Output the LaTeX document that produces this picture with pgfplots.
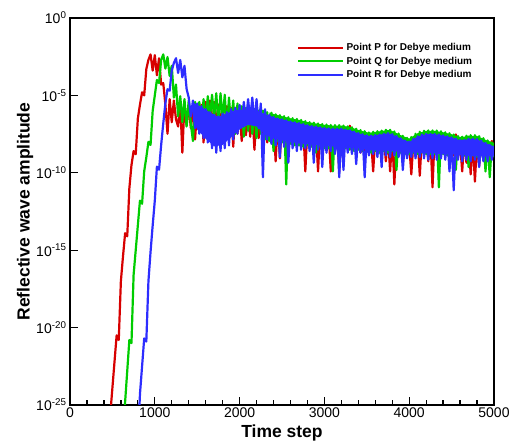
\documentclass[border=0pt]{standalone}
\usepackage{pgfplots}
\pgfplotsset{compat=1.18}
\usepackage{pgfplotstable}
\usepackage{fontspec}
\setmainfont{Liberation Sans}
\definecolor{cred}{RGB}{215,0,0}
\definecolor{cgreen}{RGB}{0,205,0}
\definecolor{cblue}{RGB}{45,45,255}
% t, log10 amplitude for points P (r), Q (g), R (b)
\pgfplotstableread{
t r g b
475 -25.6 -30 -30
500 -23.9 -30 -30
525 -22.2 -30 -30
550 -20.5 -30 -30
575 -20.8 -30 -30
600 -17.0 -30 -30
625 -15.4 -28.0 -30
650 -13.9 -24.8 -30
675 -14.1 -22.8 -30
700 -11.0 -20.8 -30
725 -9.5 -21.0 -30
750 -8.6 -16.6 -30
775 -8.8 -15.0 -30
800 -6.5 -13.4 -27.5
825 -5.6 -11.8 -24.3
850 -4.8 -12.0 -22.5
875 -5.0 -9.9 -20.7
900 -3.3 -9.0 -20.9
925 -2.7 -8.0 -17.0
950 -2.35 -8.2 -15.1
975 -3.4 -6.0 -13.4
1000 -2.4 -5.0 -11.8
1025 -3.7 -4.0 -9.6
1050 -2.6 -4.2 -9.8
1075 -4.3 -2.7 -8.2
1100 -4.21 -2.35 -6.8
1125 -5.61 -3.27 -5.5
1150 -7.48 -2.52 -4.6
1175 -5.24 -3.74 -4.7
1200 -6.73 -3.09 -3.4
1225 -5.33 -5.14 -2.9
1250 -6.55 -4.30 -2.6
1275 -7.01 -6.36 -3.55
1300 -5.52 -5.05 -2.71
1325 -8.70 -6.73 -3.83
1350 -5.52 -5.24 -3.09
1375 -6.92 -7.01 -4.58
1400 -5.61 -5.33 -5.14
1425 -7.11 -6.83 -6.36
1450 -5.61 -7.95 -5.33
1475 -7.85 -5.42 -7.11
1500 -5.70 -6.92 -5.52
1525 -7.01 -5.42 -7.48
1550 -5.61 -7.11 -5.70
1575 -8.04 -5.24 -7.76
1600 -5.42 -6.73 -5.89
1625 -6.92 -5.05 -8.04
1650 -5.33 -6.55 -6.08
1675 -7.29 -4.96 -8.42
1700 -5.42 -6.45 -6.26
1725 -7.01 -4.86 -8.70
1750 -5.61 -6.92 -6.36
1775 -7.11 -4.86 -8.60
1800 -5.61 -6.55 -6.17
1825 -7.29 -4.96 -8.42
1850 -5.70 -7.29 -6.08
1875 -7.39 -5.14 -8.23
1900 -5.80 -7.01 -5.89
1925 -8.32 -5.33 -7.85
1950 -5.80 -7.48 -5.80
1975 -7.48 -5.52 -7.48
2000 -5.89 -7.11 -5.61
2025 -7.95 -5.70 -6.92
2050 -5.89 -7.67 -5.42
2075 -7.57 -5.80 -6.73
2100 -5.98 -7.29 -5.24
2125 -7.67 -5.89 -6.55
2150 -5.98 -7.48 -5.14
2175 -8.51 -5.89 -6.92
2200 -6.08 -7.76 -5.24
2225 -7.76 -5.98 -7.11
2250 -6.08 -7.48 -5.52
2275 -7.85 -5.98 -10.29
2300 -6.17 -7.85 -5.89
2325 -8.04 -6.08 -7.85
2350 -6.30 -7.95 -6.26
2375 -7.85 -6.12 -8.13
2400 -6.55 -8.60 -6.40
2425 -9.26 -6.22 -8.23
2450 -6.64 -7.95 -6.49
2475 -9.07 -6.28 -8.98
2500 -6.69 -8.04 -6.54
2525 -8.04 -6.34 -8.32
2550 -6.76 -10.75 -6.61
2575 -8.13 -6.41 -9.35
2600 -6.83 -8.13 -6.68
2625 -7.85 -6.47 -8.42
2650 -6.88 -8.23 -6.73
2675 -8.23 -6.52 -8.60
2700 -6.93 -8.23 -6.78
2725 -8.32 -6.58 -8.51
2750 -7.00 -8.32 -6.85
2775 -9.91 -6.66 -8.42
2800 -7.07 -8.23 -6.92
2825 -8.32 -6.73 -8.60
2850 -7.13 -8.32 -6.98
2875 -8.23 -6.76 -9.35
2900 -7.16 -8.70 -7.01
2925 -9.91 -6.81 -8.51
2950 -7.21 -8.32 -7.06
2975 -8.42 -6.85 -9.63
3000 -7.25 -8.42 -7.10
3025 -8.51 -6.88 -8.70
3050 -7.28 -8.42 -7.13
3075 -9.91 -6.91 -8.60
3100 -7.30 -9.91 -7.15
3125 -8.51 -6.92 -8.79
3150 -7.30 -8.42 -7.15
3175 -9.91 -6.92 -10.29
3200 -7.30 -8.51 -7.15
3225 -8.60 -6.95 -9.82
3250 -7.36 -8.42 -7.21
3275 -8.51 -7.00 -8.70
3300 -6.96 -8.51 -7.24
3325 -8.60 -7.06 -8.79
3350 -7.49 -8.60 -7.34
3375 -8.51 -7.15 -9.44
3400 -7.58 -8.51 -7.43
3425 -8.70 -7.24 -8.70
3450 -7.65 -8.60 -7.50
3475 -8.60 -7.31 -10.29
3500 -7.73 -8.60 -7.58
3525 -8.70 -7.39 -8.88
3550 -7.75 -8.70 -7.60
3575 -9.91 -7.35 -8.79
3600 -7.71 -8.60 -7.56
3625 -8.70 -7.31 -8.98
3650 -7.67 -8.70 -7.52
3675 -8.60 -7.27 -9.63
3700 -7.63 -8.60 -7.48
3725 -9.26 -7.22 -8.88
3750 -7.58 -8.70 -7.43
3775 -9.91 -7.22 -8.98
3800 -7.65 -8.60 -7.50
3825 -10.75 -7.33 -8.88
3850 -7.77 -9.82 -7.62
3875 -8.70 -7.46 -8.98
3900 -7.92 -8.70 -7.77
3925 -9.26 -7.61 -9.82
3950 -8.07 -8.79 -7.92
3975 -8.79 -7.74 -9.07
4000 -8.14 -8.79 -7.99
4025 -10.10 -7.69 -8.98
4050 -7.95 -8.70 -7.80
4075 -8.79 -7.48 -9.07
4100 -7.79 -8.79 -7.64
4125 -10.19 -7.35 -8.98
4150 -7.67 -8.70 -7.52
4175 -8.79 -7.28 -9.07
4200 -7.64 -8.79 -7.49
4225 -9.26 -7.26 -9.16
4250 -7.63 -8.79 -7.48
4275 -10.94 -7.26 -9.07
4300 -7.64 -8.79 -7.49
4325 -8.88 -7.27 -9.16
4350 -7.67 -10.94 -7.52
4375 -8.79 -7.32 -9.07
4400 -7.73 -8.79 -7.58
4425 -8.88 -7.38 -9.16
4450 -7.79 -8.88 -7.64
4475 -8.79 -7.44 -9.91
4500 -7.86 -8.79 -7.71
4525 -8.88 -7.53 -11.13
4550 -7.52 -9.82 -7.80
4575 -8.98 -7.62 -9.16
4600 -8.03 -8.79 -7.88
4625 -9.91 -7.67 -9.26
4650 -7.78 -8.88 -7.87
4675 -9.35 -7.60 -9.16
4700 -7.95 -9.63 -7.80
4725 -10.10 -7.57 -9.26
4750 -7.95 -8.88 -7.80
4775 -10.57 -7.57 -9.16
4800 -7.97 -8.98 -7.82
4825 -9.54 -7.63 -9.63
4850 -8.07 -8.88 -7.92
4875 -8.98 -7.76 -9.26
4900 -8.22 -9.91 -8.07
4925 -9.07 -7.91 -9.26
4950 -8.36 -10.29 -8.21
4975 -7.95 -8.04 -9.16
5000 -8.42 -8.98 -8.27
}\wavedata
% upper rim of point Q over the late band: upper edge, then lower edge back
\pgfplotstableread{
t g
2350 -6.11
2400 -6.20
2500 -6.34
2600 -6.48
2700 -6.58
2800 -6.72
2900 -6.81
3000 -6.90
3100 -6.95
3200 -6.95
3300 -7.04
3400 -7.23
3500 -7.38
3550 -7.40
3600 -7.36
3700 -7.28
3750 -7.23
3800 -7.30
3900 -7.57
4000 -7.79
4100 -7.44
4200 -7.29
4300 -7.29
4400 -7.38
4500 -7.51
4600 -7.68
4650 -7.67
4700 -7.60
4800 -7.62
4900 -7.87
5000 -8.07
5000 -8.60
4900 -8.40
4800 -8.15
4700 -8.10
4600 -8.20
4500 -8.05
4400 -7.90
4300 -7.80
4200 -7.80
4100 -7.95
4000 -8.30
3900 -8.10
3800 -7.80
3700 -7.80
3600 -7.90
3500 -7.90
3400 -7.75
3300 -7.55
3200 -7.45
3100 -7.45
3000 -7.40
2900 -7.30
2800 -7.20
2700 -7.10
2600 -7.00
2500 -6.85
2400 -6.70
2350 -6.60
}\rimQ
% dense part of the point R band: upper edge, then lower edge back
\pgfplotstableread{
t b
1450 -5.45
1550 -5.75
1650 -6.10
1750 -6.40
1850 -6.15
1950 -5.95
2050 -5.95
2150 -6.00
2250 -6.10
2350 -6.30
2400 -6.42
2500 -6.56
2600 -6.70
2700 -6.80
2800 -6.94
2900 -7.03
3000 -7.12
3100 -7.17
3200 -7.17
3300 -7.26
3400 -7.45
3500 -7.60
3550 -7.62
3600 -7.58
3700 -7.50
3750 -7.45
3800 -7.52
3900 -7.79
4000 -8.01
4100 -7.66
4200 -7.51
4300 -7.51
4400 -7.60
4500 -7.73
4600 -7.90
4650 -7.89
4700 -7.82
4800 -7.84
4900 -8.09
5000 -8.29
5000 -8.90
4900 -8.95
4800 -8.90
4700 -8.90
4600 -8.85
4500 -8.80
4400 -8.80
4300 -8.75
4200 -8.75
4100 -8.70
4000 -8.70
3900 -8.65
3800 -8.60
3700 -8.55
3600 -8.55
3500 -8.50
3400 -8.40
3300 -8.40
3200 -8.35
3100 -8.30
3000 -8.25
2900 -8.20
2800 -8.15
2700 -8.10
2600 -8.00
2500 -7.90
2400 -7.80
2300 -7.50
2200 -7.00
2100 -6.90
2000 -7.20
1900 -7.70
1800 -8.20
1700 -8.30
1600 -7.80
1500 -7.20
1450 -6.60
}\bandR
\begin{document}
\begin{tikzpicture}
\useasboundingbox (-70pt,-41pt) rectangle (442pt,405pt);
\begin{axis}[
  at={(0,0)}, anchor=south west,
  scale only axis, width=424pt, height=387pt,
  xmin=0, xmax=5000, ymin=-25, ymax=0,
  xtick={0,1000,...,5000}, minor x tick num=4,
  ytick={-25,-20,-15,-10,-5,0},
  yticklabels={10\textsuperscript{-25},10\textsuperscript{-20},10\textsuperscript{-15},10\textsuperscript{-10},10\textsuperscript{-5},10\textsuperscript{0}},
  tick pos=left, tick align=inside,
  major tick length=8pt, minor tick length=4.5pt,
  every tick/.style={black, line width=1.3pt},
  axis line style={line width=1.8pt},
  /pgf/number format/assume math mode=true,
  /pgf/number format/1000 sep={},
  tick label style={font=\fontsize{14}{16}\selectfont},
  xticklabel style={yshift=1pt},
  xlabel={Time step}, ylabel={Reflective wave amplitude},
  label style={font=\fontsize{17.5}{20}\selectfont\bfseries},
  xlabel style={at={(axis description cs:0.5,-0.072)}, anchor=center},
  ylabel style={at={(axis description cs:-0.106,0.5)}, anchor=center},
  legend cell align=left,
  legend style={draw=none, fill=none, at={(0.535,0.942)}, anchor=north west,
    font=\fontsize{10}{12}\selectfont\bfseries, inner sep=0pt, row sep=0pt,
    nodes={inner sep=2.5pt}},
  legend image code/.code={\draw[#1, line width=2pt] (0pt,0pt) -- (45pt,0pt);},
]
\addplot[cred, line width=2.2pt, line join=round] table[x=t, y=r] {\wavedata};
\addlegendentry{Point P for Debye medium}
\addplot[cgreen, line width=2.2pt, line join=round] table[x=t, y=g] {\wavedata};
\addlegendentry{Point Q for Debye medium}
\addplot[cgreen, fill=cgreen, draw=none, forget plot] table[x=t, y=g] {\rimQ};
\addplot[cblue, fill=cblue, draw=none, forget plot] table[x=t, y=b] {\bandR};
\addplot[cblue, line width=2.2pt, line join=round] table[x=t, y=b] {\wavedata};
\addlegendentry{Point R for Debye medium}
\end{axis}
\end{tikzpicture}
\end{document}
